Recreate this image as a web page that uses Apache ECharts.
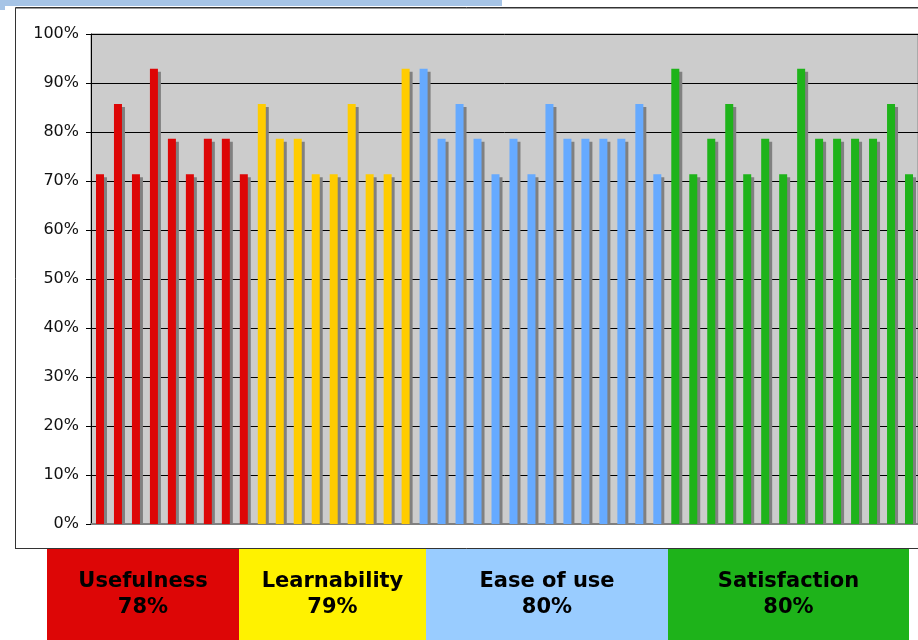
<!DOCTYPE html>
<html>
<head>
<meta charset="utf-8">
<script src="https://cdn.jsdelivr.net/npm/echarts@6/dist/echarts.min.js"></script>
<style>html,body{margin:0;padding:0;background:#fff}#c{width:918px;height:640px}</style>
</head>
<body>
<div id="c"></div>
<script>
// Values (%) per question, grouped by dimension
var usefulness   = [71.4, 85.7, 71.4, 92.9, 78.6, 71.4, 78.6, 78.6, 71.4];
var learnability = [85.7, 78.6, 78.6, 71.4, 71.4, 85.7, 71.4, 71.4, 92.9];
var easeOfUse    = [92.9, 78.6, 85.7, 78.6, 71.4, 78.6, 71.4, 85.7, 78.6, 78.6, 78.6, 78.6, 85.7, 71.4];
var satisfaction = [92.9, 71.4, 78.6, 85.7, 71.4, 78.6, 71.4, 92.9, 78.6, 78.6, 78.6, 78.6, 85.7, 71.4];
var groupNames  = ['Usefulness', 'Learnability', 'Ease of use', 'Satisfaction'];
var groupScores = ['78%', '79%', '80%', '80%'];
var yTicks = [0, 10, 20, 30, 40, 50, 60, 70, 80, 90, 100];

var groups = [usefulness, learnability, easeOfUse, satisfaction];
var barColors = ['#dd0606', '#ffcc00', '#66aaff', '#1eb31a'];
var boxColors = ['#dd0606', '#fff200', '#99ccff', '#1eb31a'];
var boxX = [47, 239, 426, 668, 909];

var categories = [];
var data = [];
groups.forEach(function (g, gi) {
  g.forEach(function (v) {
    categories.push(String(categories.length + 1));
    data.push({ value: v, itemStyle: { color: barColors[gi] } });
  });
});

var graphics = [
  { type: 'rect', shape: { x: 0, y: 0, width: 502, height: 6 }, style: { fill: '#a6c4e6' }, z: 1 },
  { type: 'rect', shape: { x: 0, y: 0, width: 5, height: 10 }, style: { fill: '#a6c4e6' }, z: 1 },
  { type: 'line', shape: { x1: 15.5, y1: 7.5, x2: 918, y2: 7.5 }, style: { stroke: '#333', lineWidth: 1 }, z: 1 },
  { type: 'line', shape: { x1: 16, y1: 8.5, x2: 918, y2: 8.5 }, style: { stroke: '#999', lineWidth: 1 }, z: 1 },
  { type: 'line', shape: { x1: 15.5, y1: 7.5, x2: 15.5, y2: 549 }, style: { stroke: '#333', lineWidth: 1 }, z: 1 },
  { type: 'line', shape: { x1: 15.5, y1: 548.5, x2: 918, y2: 548.5 }, style: { stroke: '#333', lineWidth: 1 }, z: 1 },
  { type: 'rect', shape: { x: 91, y: 525, width: 828, height: 6 }, style: { fill: '#fff' }, z: 50 }
];
groupNames.forEach(function (name, i) {
  graphics.push({
    type: 'rect',
    shape: { x: boxX[i], y: 549, width: boxX[i + 1] - boxX[i], height: 91 },
    style: { fill: boxColors[i] }, z: 60
  });
  graphics.push({
    type: 'text',
    x: (boxX[i] + boxX[i + 1]) / 2, y: 595,
    style: {
      text: name + '\n' + groupScores[i],
      fill: '#000',
      font: 'bold 21px "DejaVu Sans"',
      lineHeight: 26,
      align: 'center',
      verticalAlign: 'middle'
    },
    z: 61
  });
});

var chart = echarts.init(document.getElementById('c'), null, { renderer: 'canvas' });
chart.setOption({
  animation: false,
  backgroundColor: '#fff',
  grid: {
    left: 91, top: 34, width: 828, height: 490,
    show: true, backgroundColor: '#cccccc', borderColor: '#888', borderWidth: 1
  },
  xAxis: {
    type: 'category',
    data: categories,
    axisLabel: { show: false },
    axisTick: { show: false },
    axisLine: { show: true, lineStyle: { color: '#808080', width: 2 } },
    splitLine: { show: false }
  },
  yAxis: {
    type: 'value',
    min: yTicks[0], max: yTicks[yTicks.length - 1], interval: 10,
    axisLabel: {
      formatter: '{value}%', fontSize: 16, color: '#111',
      fontFamily: 'DejaVu Sans', margin: 12
    },
    axisTick: { show: true, length: 5, lineStyle: { color: '#000' } },
    axisLine: { show: true, lineStyle: { color: '#000', width: 1 } },
    splitLine: { show: true, lineStyle: { color: '#000', width: 1 } }
  },
  series: [{
    type: 'bar',
    data: data,
    barWidth: 8,
    itemStyle: {
      shadowColor: '#808080', shadowBlur: 0, shadowOffsetX: 3, shadowOffsetY: 3
    }
  }],
  graphic: graphics
});
</script>
</body>
</html>
